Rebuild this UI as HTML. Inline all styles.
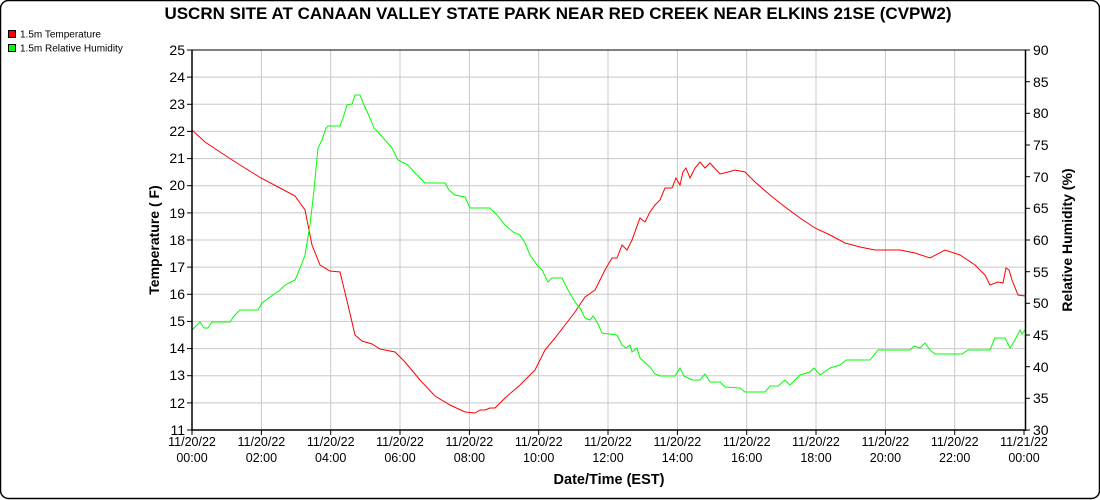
<!DOCTYPE html>
<html><head><meta charset="utf-8"><style>
html,body{margin:0;padding:0;background:#fff;}
svg{display:block;font-family:"Liberation Sans",Arial,sans-serif;}
</style></head><body>
<svg width="1100" height="500" viewBox="0 0 1100 500" xmlns="http://www.w3.org/2000/svg">
<rect x="0.5" y="0.5" width="1099" height="498" rx="8" ry="8" fill="#fff" stroke="#000" stroke-width="1.5"/>
<text x="558" y="19" text-anchor="middle" font-size="17" font-weight="bold">USCRN SITE AT CANAAN VALLEY STATE PARK NEAR RED CREEK NEAR ELKINS 21SE (CVPW2)</text>
<rect x="8.5" y="30.5" width="7" height="7" fill="#f00" stroke="#000"/>
<text x="20" y="37.5" font-size="10">1.5m Temperature</text>
<rect x="8.5" y="44.5" width="7" height="7" fill="#0f0" stroke="#000"/>
<text x="20" y="51.5" font-size="10">1.5m Relative Humidity</text>
<g stroke="#c8c8c8" stroke-width="1">
<line x1="192" y1="77.1" x2="1025" y2="77.1"/><line x1="192" y1="104.3" x2="1025" y2="104.3"/><line x1="192" y1="131.4" x2="1025" y2="131.4"/><line x1="192" y1="158.6" x2="1025" y2="158.6"/><line x1="192" y1="185.7" x2="1025" y2="185.7"/><line x1="192" y1="212.9" x2="1025" y2="212.9"/><line x1="192" y1="240" x2="1025" y2="240"/><line x1="192" y1="267.1" x2="1025" y2="267.1"/><line x1="192" y1="294.3" x2="1025" y2="294.3"/><line x1="192" y1="321.4" x2="1025" y2="321.4"/><line x1="192" y1="348.6" x2="1025" y2="348.6"/><line x1="192" y1="375.7" x2="1025" y2="375.7"/><line x1="192" y1="402.9" x2="1025" y2="402.9"/>
<line x1="261.4" y1="50" x2="261.4" y2="430"/><line x1="330.7" y1="50" x2="330.7" y2="430"/><line x1="400" y1="50" x2="400" y2="430"/><line x1="469.4" y1="50" x2="469.4" y2="430"/><line x1="538.7" y1="50" x2="538.7" y2="430"/><line x1="608" y1="50" x2="608" y2="430"/><line x1="677.4" y1="50" x2="677.4" y2="430"/><line x1="746.7" y1="50" x2="746.7" y2="430"/><line x1="816" y1="50" x2="816" y2="430"/><line x1="885.4" y1="50" x2="885.4" y2="430"/><line x1="954.7" y1="50" x2="954.7" y2="430"/>
</g>
<line x1="192" y1="50" x2="1025" y2="50" stroke="#000"/>
<polyline fill="none" stroke="#f00" stroke-width="1" points="192,130 205,142 220,152 240,165 261,178 280,188 295,196 305,210 312,245 320,265 330,271 340,272 348,305 355,335 362,341 372,344 380,349 395,352 405,362 420,380 435,396 450,405 465,412 475,413 480,410 485,410 490,408 495,408 505,398 520,385 535,370 545,350 555,338 565,325 575,312 585,297 595,290 605,270 612,258 617,258 622,245 627,250 632,240 640,218 645,222 650,212 655,205 660,200 665,188 672,188 676,178 680,185 683,172 686,168 690,178 695,168 700,162 705,168 710,163 720,174 728,172 735,170 745,172 755,182 770,195 785,207 800,218 815,228 830,235 845,243 860,247 875,250 900,250 915,253 930,258 945,250 960,255 975,265 985,275 990,285 998,282 1003,283 1006,268 1009,270 1012,280 1018,295 1025,296"/>
<polyline fill="none" stroke="#0f0" stroke-width="1" points="192,330 200,322 204,328 208,328 212,322 230,322 234,316 240,310 258,310 262,303 270,297 280,290 285,285 295,280 301,266 305,255 310,225 314,190 318,148 322,140 326,128 328,126 340,126 344,115 347,105 352,104 355,95 360,95 364,105 370,118 374,128 378,132 385,140 392,148 398,160 408,165 415,173 425,183 445,183 449,190 455,195 465,197 470,208 490,208 497,215 505,225 513,232 520,235 525,243 530,255 537,265 542,270 548,282 552,278 562,278 568,290 575,302 580,308 585,318 590,320 593,316 597,322 602,333 617,335 622,345 626,348 630,345 632,352 637,348 640,358 650,367 655,374 660,376 675,376 680,368 684,376 692,380 700,380 705,374 710,382 720,382 725,387 740,388 745,392 752,392 765,392 770,386 778,386 785,380 790,385 800,375 810,372 814,368 820,375 830,368 840,365 846,360 870,360 878,350 910,350 914,346 920,348 925,343 930,350 935,354 962,354 968,350 990,350 995,338 1005,338 1010,348 1015,340 1020,330 1022,334 1025,330"/>
<g stroke="#000" stroke-width="1.5" fill="none">
<line x1="192" y1="50" x2="192" y2="431"/><line x1="192" y1="430" x2="1025" y2="430"/><line x1="1025.5" y1="50" x2="1025.5" y2="431"/>
</g>
<g stroke="#000" stroke-width="1">
<line x1="187" y1="50" x2="192" y2="50"/><line x1="187" y1="77.1" x2="192" y2="77.1"/><line x1="187" y1="104.3" x2="192" y2="104.3"/><line x1="187" y1="131.4" x2="192" y2="131.4"/><line x1="187" y1="158.6" x2="192" y2="158.6"/><line x1="187" y1="185.7" x2="192" y2="185.7"/><line x1="187" y1="212.9" x2="192" y2="212.9"/><line x1="187" y1="240" x2="192" y2="240"/><line x1="187" y1="267.1" x2="192" y2="267.1"/><line x1="187" y1="294.3" x2="192" y2="294.3"/><line x1="187" y1="321.4" x2="192" y2="321.4"/><line x1="187" y1="348.6" x2="192" y2="348.6"/><line x1="187" y1="375.7" x2="192" y2="375.7"/><line x1="187" y1="402.9" x2="192" y2="402.9"/><line x1="187" y1="430" x2="192" y2="430"/>
<line x1="1025" y1="50" x2="1030" y2="50"/><line x1="1025" y1="81.7" x2="1030" y2="81.7"/><line x1="1025" y1="113.3" x2="1030" y2="113.3"/><line x1="1025" y1="145" x2="1030" y2="145"/><line x1="1025" y1="176.7" x2="1030" y2="176.7"/><line x1="1025" y1="208.3" x2="1030" y2="208.3"/><line x1="1025" y1="240" x2="1030" y2="240"/><line x1="1025" y1="271.7" x2="1030" y2="271.7"/><line x1="1025" y1="303.3" x2="1030" y2="303.3"/><line x1="1025" y1="335" x2="1030" y2="335"/><line x1="1025" y1="366.7" x2="1030" y2="366.7"/><line x1="1025" y1="398.3" x2="1030" y2="398.3"/><line x1="1025" y1="430" x2="1030" y2="430"/>
<line x1="192" y1="430" x2="192" y2="435"/><line x1="261.4" y1="430" x2="261.4" y2="435"/><line x1="330.7" y1="430" x2="330.7" y2="435"/><line x1="400" y1="430" x2="400" y2="435"/><line x1="469.4" y1="430" x2="469.4" y2="435"/><line x1="538.7" y1="430" x2="538.7" y2="435"/><line x1="608" y1="430" x2="608" y2="435"/><line x1="677.4" y1="430" x2="677.4" y2="435"/><line x1="746.7" y1="430" x2="746.7" y2="435"/><line x1="816" y1="430" x2="816" y2="435"/><line x1="885.4" y1="430" x2="885.4" y2="435"/><line x1="954.7" y1="430" x2="954.7" y2="435"/><line x1="1024" y1="430" x2="1024" y2="435"/>
</g>
<g font-size="14" text-anchor="end">
<text x="185" y="55">25</text><text x="185" y="82">24</text><text x="185" y="109">23</text><text x="185" y="136">22</text><text x="185" y="163">21</text><text x="185" y="190">20</text><text x="185" y="218">19</text><text x="185" y="245">18</text><text x="185" y="272">17</text><text x="185" y="299">16</text><text x="185" y="326">15</text><text x="185" y="353">14</text><text x="185" y="380">13</text><text x="185" y="408">12</text><text x="185" y="435">11</text>
</g>
<g font-size="14" text-anchor="start">
<text x="1033" y="55">90</text><text x="1033" y="87">85</text><text x="1033" y="118">80</text><text x="1033" y="150">75</text><text x="1033" y="182">70</text><text x="1033" y="213">65</text><text x="1033" y="245">60</text><text x="1033" y="277">55</text><text x="1033" y="308">50</text><text x="1033" y="340">45</text><text x="1033" y="372">40</text><text x="1033" y="403">35</text><text x="1033" y="435">30</text>
</g>
<g font-size="12.5" text-anchor="middle">
<text x="192" y="446">11/20/22</text><text x="192" y="462">00:00</text>
<text x="261.4" y="446">11/20/22</text><text x="261.4" y="462">02:00</text>
<text x="330.7" y="446">11/20/22</text><text x="330.7" y="462">04:00</text>
<text x="400" y="446">11/20/22</text><text x="400" y="462">06:00</text>
<text x="469.4" y="446">11/20/22</text><text x="469.4" y="462">08:00</text>
<text x="538.7" y="446">11/20/22</text><text x="538.7" y="462">10:00</text>
<text x="608" y="446">11/20/22</text><text x="608" y="462">12:00</text>
<text x="677.4" y="446">11/20/22</text><text x="677.4" y="462">14:00</text>
<text x="746.7" y="446">11/20/22</text><text x="746.7" y="462">16:00</text>
<text x="816" y="446">11/20/22</text><text x="816" y="462">18:00</text>
<text x="885.4" y="446">11/20/22</text><text x="885.4" y="462">20:00</text>
<text x="954.7" y="446">11/20/22</text><text x="954.7" y="462">22:00</text>
<text x="1024" y="446">11/21/22</text><text x="1024" y="462">00:00</text>
</g>
<text x="609" y="484" text-anchor="middle" font-size="14.5" font-weight="bold">Date/Time (EST)</text>
<text transform="translate(159,240) rotate(-90)" text-anchor="middle" font-size="14" font-weight="bold">Temperature ( F)</text>
<text transform="translate(1072,240) rotate(-90)" text-anchor="middle" font-size="14" font-weight="bold">Relative Humidity (%)</text>
</svg>
</body></html>
